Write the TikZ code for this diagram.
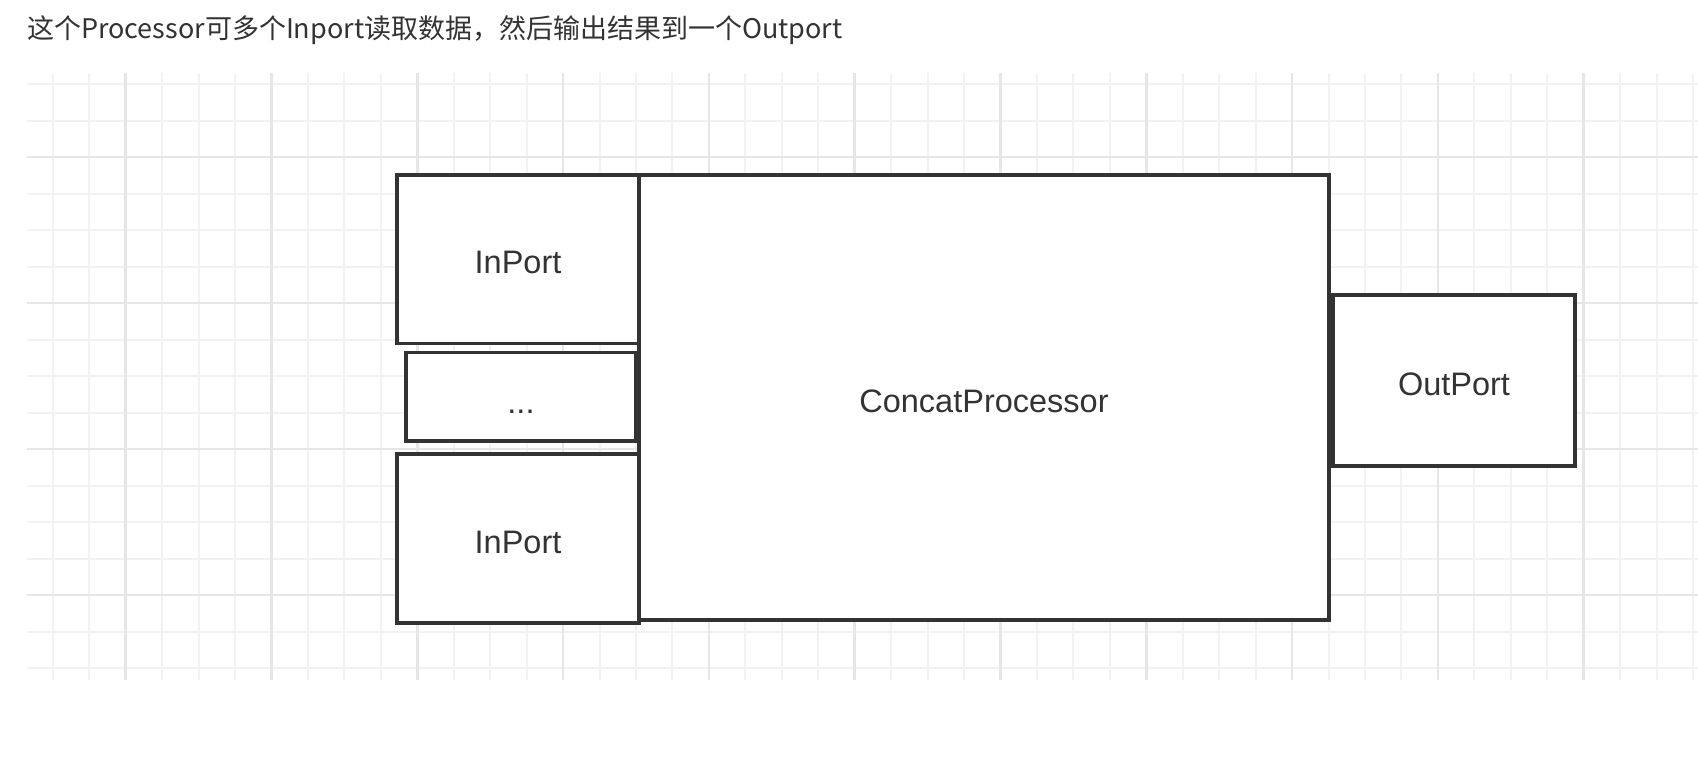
\documentclass[tikz,border=0pt]{standalone}
\usepackage{fontspec}
\setmainfont{Liberation Sans}
\newfontfamily\cjk{Noto Sans CJK SC}
\definecolor{ink}{HTML}{333333}
\definecolor{gridminor}{HTML}{F2F2F2}
\definecolor{gridmajor}{HTML}{E6E6E6}
\begin{document}
\begin{tikzpicture}[x=1pt,y=-1pt,
  box/.style={draw=ink, line width=3.5pt, fill=white, rectangle, inner sep=0pt,
              text=ink, font=\fontsize{32.5}{38}\selectfont, text height=29pt, text depth=0pt},
  minorline/.style={draw=gridminor, line width=2pt},
  majorline/.style={draw=gridmajor, line width=2.5pt}]
\useasboundingbox (0,0) rectangle (1698,772);
\fill[white] (0,0) rectangle (1698,772);
% grid
\foreach \k in {0,...,45} {
  \pgfmathsetmacro\xx{52.8+36.45*\k}
  \draw[minorline] (\xx,73) -- (\xx,680);
}
\foreach \j in {0,...,16} {
  \pgfmathsetmacro\yy{84+36.5*\j}
  \draw[minorline] (27,\yy) -- (1698,\yy);
}
\foreach \k in {2,6,...,42} {
  \pgfmathsetmacro\xx{52.8+36.45*\k}
  \draw[majorline] (\xx,73) -- (\xx,680);
}
\foreach \j in {2,6,10,14} {
  \pgfmathsetmacro\yy{84+36.5*\j}
  \draw[majorline] (27,\yy) -- (1698,\yy);
}
% title
\node[anchor=base west, inner sep=0pt, text=ink, font=\cjk\fontsize{27}{32}\selectfont]
  (title) at (27,38) {这个Processor可多个Inport读取数据，然后输出结果到一个Outport};
% boxes
\node[box, minimum width=690pt, minimum height=445pt] (concat) at (984,397.5) {ConcatProcessor};
\node[box, minimum width=242pt, minimum height=168.5pt] (in1) at (518,259.25) {InPort};
\node[box, minimum width=230pt, minimum height=88.3pt, text height=34pt] (dots) at (521,396.85) {...};
\node[box, minimum width=242pt, minimum height=169pt] (in2) at (518,538.5) {InPort};
\node[box, minimum width=242pt, minimum height=171pt] (out) at (1454,380.5) {OutPort};
\end{tikzpicture}
\end{document}
